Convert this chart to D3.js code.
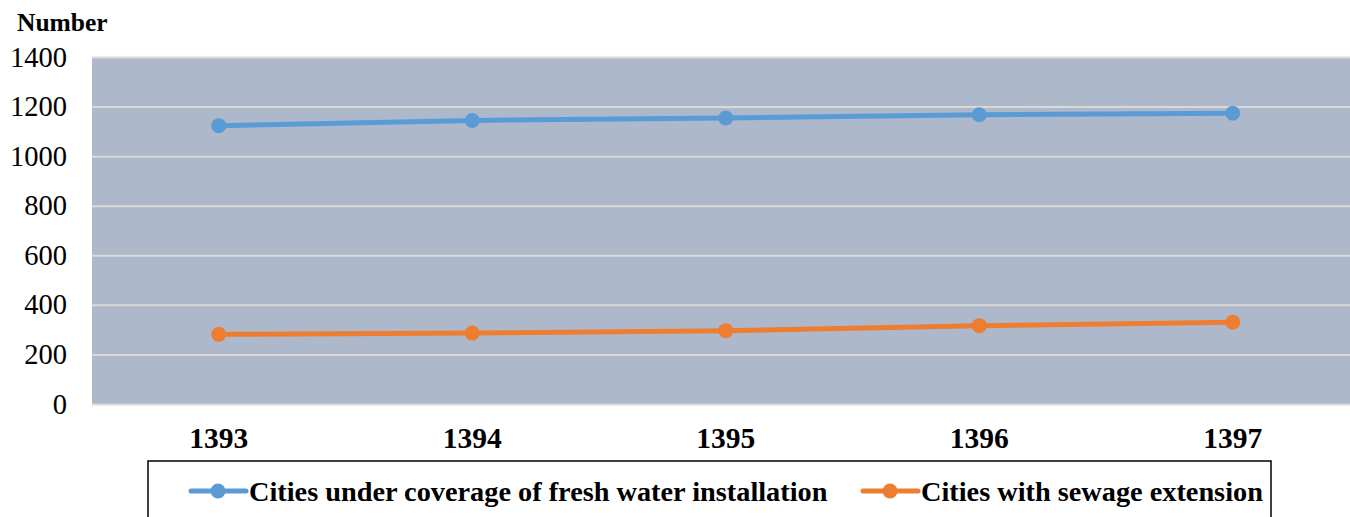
<!DOCTYPE html>
<html><head><meta charset="utf-8">
<script src="https://cdn.jsdelivr.net/npm/d3@7"></script>
<style>body{margin:0;background:#fff;overflow:hidden}svg{display:block}
text{font-family:"Liberation Serif","Times New Roman",Tinos,"DejaVu Serif",serif}</style>
</head><body>
<svg id="c" width="1350" height="517"></svg>
<script>
const years = ["1393","1394","1395","1396","1397"];
const freshWater = [1123, 1144, 1154, 1167, 1173];
const sewage = [281, 286, 296, 316, 330];
const yTicks = [0,200,400,600,800,1000,1200,1400];
const seriesNames = ["Cities under coverage of fresh water installation","Cities with sewage extension"];
const colors = ["#5B9BD5","#ED7D31"];

(function(){
const svg = d3.select("#c");
const pL = 92, pR = 1359.5, pT = 57, pB = 404;
const x = d3.scaleBand().domain(years).range([pL,pR]);
const y = d3.scaleLinear().domain([0,1400]).range([pB,pT]);

svg.append("rect").attr("x",pL).attr("y",pT).attr("width",pR-pL).attr("height",pB-pT).attr("fill","#ADB9CA");

const yAxis = svg.append("g").attr("transform",`translate(${pL},0)`)
  .call(d3.axisLeft(y).tickValues(yTicks).tickSize(-(pR-pL)).tickPadding(25).tickFormat(d3.format("d")));
yAxis.select(".domain").remove();
yAxis.selectAll(".tick line").attr("stroke","#D9D9D9").attr("stroke-width",2);
yAxis.selectAll(".tick text").attr("font-family",null).attr("font-size",28.5).attr("fill","#000");

const xAxis = svg.append("g").attr("transform",`translate(0,${pB})`)
  .call(d3.axisBottom(x).tickSize(0).tickPadding(23));
xAxis.select(".domain").remove();
xAxis.selectAll(".tick text").attr("font-family",null).attr("font-size",29.5).attr("font-weight","bold").attr("fill","#000");

svg.append("text").attr("x",17).attr("y",31).text("Number")
  .attr("font-size",25.5).attr("font-weight","bold");

const cx = d => x(d) + x.bandwidth()/2;
const line = d3.line().x((d,i)=>cx(years[i])).y(d=>y(d));
[freshWater, sewage].forEach((s,k)=>{
  svg.append("path").datum(s).attr("d",line).attr("fill","none").attr("stroke",colors[k]).attr("stroke-width",5).attr("stroke-linejoin","round");
  svg.selectAll(null).data(s).enter().append("circle")
    .attr("cx",(d,i)=>cx(years[i])).attr("cy",d=>y(d)).attr("r",7.5).attr("fill",colors[k]);
});

svg.append("rect").attr("x",148).attr("y",461).attr("width",1123).attr("height",70).attr("fill","#fff").attr("stroke","#000").attr("stroke-width",1.5);
const legX = [190, 862];
seriesNames.forEach((n,k)=>{
  const g = svg.append("g").attr("transform",`translate(${legX[k]},491)`);
  g.append("line").attr("x1",1).attr("x2",56).attr("stroke",colors[k]).attr("stroke-width",5).attr("stroke-linecap","round");
  g.append("circle").attr("cx",28).attr("r",7.5).attr("fill",colors[k]);
  g.append("text").attr("x",59).attr("y",10).text(n)
    .attr("font-size",28.3).attr("font-weight","bold");
});
})();
</script>
</body></html>
